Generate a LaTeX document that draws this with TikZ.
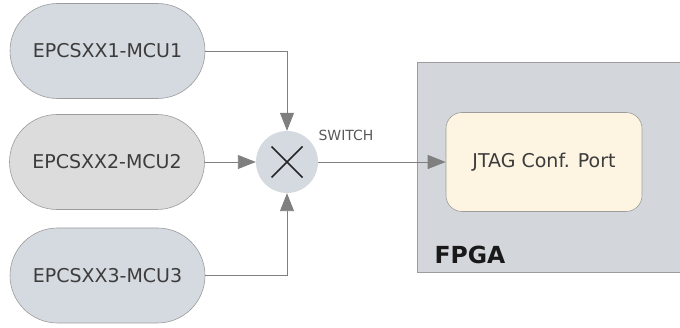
\documentclass[tikz,border=0pt]{standalone}
\usepackage{fontspec}
\setmainfont{DejaVu Sans}
\usetikzlibrary{arrows.meta,shapes.misc,calc}
\definecolor{pillblue}{HTML}{D5DAE0}
\definecolor{pillgray}{HTML}{DCDCDC}
\definecolor{edgegray}{HTML}{9C9C9C}
\definecolor{txtgray}{HTML}{3C3C3C}
\definecolor{wiregray}{HTML}{7F7F7F}
\definecolor{fpgafill}{HTML}{D3D7DC}
\definecolor{portfill}{HTML}{FDF5E2}
\tikzset{
  pill/.style={rounded rectangle, draw=edgegray, line width=0.6pt,
    minimum width=195pt, minimum height=95pt, inner sep=0pt,
    font=\fontsize{19}{21}\selectfont, text=txtgray},
  wire/.style={draw=wiregray, line width=0.9pt,
    -{Triangle[length=18pt,width=14pt]}},
}
\begin{document}
\begin{tikzpicture}[x=1pt,y=-1pt]
\useasboundingbox (0,0) rectangle (680,328);
% FPGA block
\node[draw=edgegray, fill=fpgafill, line width=0.6pt, minimum width=270pt,
  minimum height=210pt, inner sep=0pt, anchor=north west] (fpga) at (417,62) {};
\node[anchor=west, font=\fontsize{23.5}{25}\selectfont\bfseries, text=black!90]
  (fpgalbl) at (431,255) {FPGA};
\node[draw=edgegray, fill=portfill, line width=0.6pt, rounded corners=16pt,
  minimum width=196pt, minimum height=99pt, inner sep=0pt,
  font=\fontsize{19}{21}\selectfont, text=txtgray] (jtag) at (544,162) {JTAG Conf. Port};
% sources
\node[pill, fill=pillblue] (m1) at (107.5,51) {EPCSXX1-MCU1};
\node[pill, fill=pillgray] (m2) at (107,162) {EPCSXX2-MCU2};
\node[pill, fill=pillblue] (m3) at (107.5,275.5) {EPCSXX3-MCU3};
% switch
\node[circle, fill=pillblue, minimum size=62pt, inner sep=0pt] (sw) at (287,162) {};
\draw[line width=1.5pt, black!85] ($(sw)+(-15.5,-15.5)$) -- ($(sw)+(15.5,15.5)$)
  ($(sw)+(-15.5,15.5)$) -- ($(sw)+(15.5,-15.5)$);
\node[anchor=south west, font=\fontsize{14}{16}\selectfont, text=txtgray!85]
  (swlbl) at (315,144) {SWITCH};
% connections
\draw[wire] (m1.east) -| (sw.north);
\draw[wire] (m2.east) -- (sw.west);
\draw[wire] (m3.east) -| (sw.south);
\draw[wire] (sw.east) -- (jtag.west);
\end{tikzpicture}
\end{document}
